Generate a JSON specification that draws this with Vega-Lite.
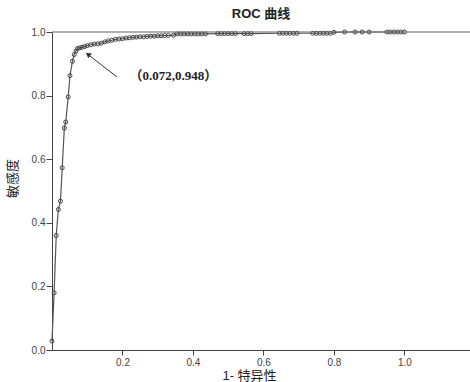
{
  "$schema": "https://vega.github.io/schema/vega-lite/v6.json",
  "width": 418,
  "height": 318,
  "autosize": "none",
  "padding": {"left": 52, "top": 32, "right": 0, "bottom": 32},
  "background": "white",
  "config": {"view": {"stroke": null}, "font": "Liberation Sans, Noto Sans CJK SC"},
  "title": {"text": "ROC 曲线", "fontSize": 13, "fontWeight": "bold", "font": "Liberation Sans, Noto Sans CJK SC", "color": "#222", "anchor": "middle", "offset": 6},
  "datasets": {
    "roc": [
      {"fpr": 0.0, "tpr": 0.028},
      {"fpr": 0.006, "tpr": 0.18},
      {"fpr": 0.012, "tpr": 0.36},
      {"fpr": 0.018, "tpr": 0.442},
      {"fpr": 0.024, "tpr": 0.468},
      {"fpr": 0.029, "tpr": 0.573},
      {"fpr": 0.035, "tpr": 0.698},
      {"fpr": 0.039, "tpr": 0.717},
      {"fpr": 0.046, "tpr": 0.796},
      {"fpr": 0.051, "tpr": 0.863},
      {"fpr": 0.058, "tpr": 0.908},
      {"fpr": 0.063, "tpr": 0.929},
      {"fpr": 0.068, "tpr": 0.94},
      {"fpr": 0.072, "tpr": 0.948},
      {"fpr": 0.078, "tpr": 0.95},
      {"fpr": 0.085, "tpr": 0.952},
      {"fpr": 0.092, "tpr": 0.954},
      {"fpr": 0.1, "tpr": 0.957},
      {"fpr": 0.11, "tpr": 0.96},
      {"fpr": 0.12, "tpr": 0.962},
      {"fpr": 0.13, "tpr": 0.963},
      {"fpr": 0.14, "tpr": 0.965},
      {"fpr": 0.15, "tpr": 0.969},
      {"fpr": 0.16, "tpr": 0.972},
      {"fpr": 0.17, "tpr": 0.974},
      {"fpr": 0.18, "tpr": 0.977},
      {"fpr": 0.19, "tpr": 0.978},
      {"fpr": 0.2, "tpr": 0.979},
      {"fpr": 0.21, "tpr": 0.981},
      {"fpr": 0.22, "tpr": 0.982},
      {"fpr": 0.23, "tpr": 0.983},
      {"fpr": 0.24, "tpr": 0.984},
      {"fpr": 0.25, "tpr": 0.985},
      {"fpr": 0.26, "tpr": 0.985},
      {"fpr": 0.27, "tpr": 0.986},
      {"fpr": 0.28, "tpr": 0.987},
      {"fpr": 0.29, "tpr": 0.987},
      {"fpr": 0.3, "tpr": 0.988},
      {"fpr": 0.31, "tpr": 0.988},
      {"fpr": 0.32, "tpr": 0.989},
      {"fpr": 0.33, "tpr": 0.989},
      {"fpr": 0.345, "tpr": 0.99},
      {"fpr": 0.355, "tpr": 0.994},
      {"fpr": 0.365, "tpr": 0.994},
      {"fpr": 0.375, "tpr": 0.994},
      {"fpr": 0.385, "tpr": 0.994},
      {"fpr": 0.395, "tpr": 0.994},
      {"fpr": 0.405, "tpr": 0.994},
      {"fpr": 0.415, "tpr": 0.994},
      {"fpr": 0.425, "tpr": 0.994},
      {"fpr": 0.435, "tpr": 0.994},
      {"fpr": 0.47, "tpr": 0.995},
      {"fpr": 0.48, "tpr": 0.995},
      {"fpr": 0.49, "tpr": 0.995},
      {"fpr": 0.5, "tpr": 0.995},
      {"fpr": 0.51, "tpr": 0.995},
      {"fpr": 0.52, "tpr": 0.995},
      {"fpr": 0.545, "tpr": 0.995},
      {"fpr": 0.555, "tpr": 0.995},
      {"fpr": 0.565, "tpr": 0.995},
      {"fpr": 0.645, "tpr": 0.996},
      {"fpr": 0.655, "tpr": 0.996},
      {"fpr": 0.665, "tpr": 0.996},
      {"fpr": 0.675, "tpr": 0.996},
      {"fpr": 0.685, "tpr": 0.996},
      {"fpr": 0.695, "tpr": 0.996},
      {"fpr": 0.74, "tpr": 0.996},
      {"fpr": 0.75, "tpr": 0.996},
      {"fpr": 0.76, "tpr": 0.996},
      {"fpr": 0.77, "tpr": 0.996},
      {"fpr": 0.78, "tpr": 0.996},
      {"fpr": 0.79, "tpr": 0.996},
      {"fpr": 0.8, "tpr": 0.999},
      {"fpr": 0.83, "tpr": 1.0},
      {"fpr": 0.86, "tpr": 1.0},
      {"fpr": 0.88, "tpr": 1.0},
      {"fpr": 0.9, "tpr": 1.0},
      {"fpr": 0.95, "tpr": 1.0},
      {"fpr": 0.96, "tpr": 1.0},
      {"fpr": 0.97, "tpr": 1.0},
      {"fpr": 0.98, "tpr": 1.0},
      {"fpr": 0.99, "tpr": 1.0},
      {"fpr": 1.0, "tpr": 1.0}
    ],
    "arrow": [{"x": 0.184, "y": 0.859, "x2": 0.1, "y2": 0.931}],
    "head": [{"x": 0.104, "y": 0.928}],
    "label": [{"x": 0.22, "y": 0.862, "text": "（0.072,0.948）"}]
  },
  "layer": [
    {
      "data": {"name": "roc"},
      "mark": {"type": "line", "color": "#555", "strokeWidth": 1.2, "point": {"filled": false, "size": 16, "stroke": "#444", "strokeWidth": 1}},
      "encoding": {
        "x": {
          "field": "fpr", "type": "quantitative",
          "scale": {"domain": [0, 1.186], "nice": false, "zero": false},
          "axis": {
            "values": [0.2, 0.4, 0.6, 0.8, 1.0], "format": ".1f", "grid": false,
            "labelFontSize": 10, "labelColor": "#444", "labelPadding": 2,
            "tickSize": 5, "tickColor": "#444", "domainColor": "#444",
            "title": "1- 特异性", "titleFontSize": 13, "titleFontWeight": "normal", "titleColor": "#222",
            "titleX": 197, "titleY": 25, "titleBaseline": "middle", "titleAnchor": null
          }
        },
        "y": {
          "field": "tpr", "type": "quantitative",
          "scale": {"domain": [0, 1], "nice": false},
          "axis": {
            "values": [0, 0.2, 0.4, 0.6, 0.8, 1.0], "format": ".1f", "grid": false,
            "labelFontSize": 10, "labelColor": "#444", "labelPadding": 1,
            "tickSize": 6, "tickColor": "#444", "domainColor": "#444",
            "title": "敏感度", "titleFontSize": 13, "titleFontWeight": "normal", "titleColor": "#222",
            "titleX": -40, "titleY": 146, "titleAlign": "center", "titleBaseline": "middle", "titleAngle": -90
          }
        }
      }
    },
    {
      "data": {"values": [{"v": 1}]},
      "mark": {"type": "rule", "color": "#666", "strokeWidth": 1},
      "encoding": {"y": {"field": "v", "type": "quantitative"}}
    },
    {
      "data": {"name": "arrow"},
      "mark": {"type": "rule", "color": "#333", "strokeWidth": 1},
      "encoding": {
        "x": {"field": "x", "type": "quantitative"},
        "y": {"field": "y", "type": "quantitative"},
        "x2": {"field": "x2"},
        "y2": {"field": "y2"}
      }
    },
    {
      "data": {"name": "head"},
      "mark": {"type": "point", "shape": "triangle", "filled": true, "color": "#333", "size": 36, "angle": 308, "opacity": 1},
      "encoding": {
        "x": {"field": "x", "type": "quantitative"},
        "y": {"field": "y", "type": "quantitative"}
      }
    },
    {
      "data": {"name": "label"},
      "mark": {"type": "text", "align": "left", "baseline": "middle", "font": "Liberation Serif, Noto Sans CJK SC", "fontSize": 13, "fontWeight": "bold", "color": "#222"},
      "encoding": {
        "x": {"field": "x", "type": "quantitative"},
        "y": {"field": "y", "type": "quantitative"},
        "text": {"field": "text"}
      }
    }
  ]
}
